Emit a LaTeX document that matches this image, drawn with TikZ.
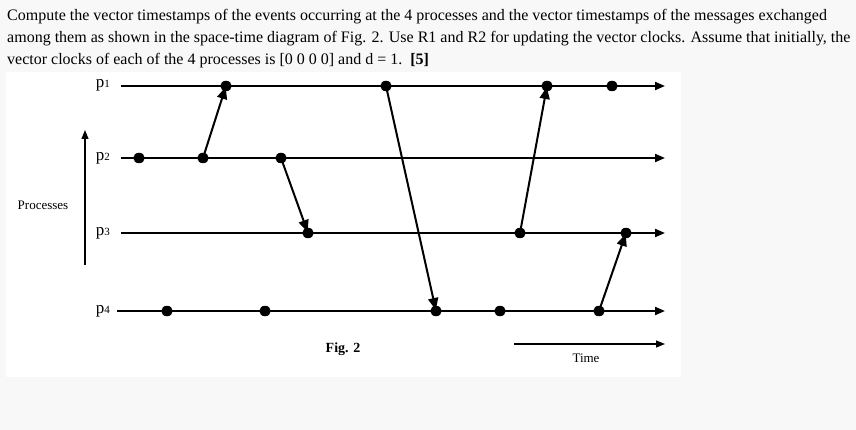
\documentclass[tikz,border=0pt]{standalone}
\usepackage{fontspec}
\setmainfont{Liberation Serif}
\usetikzlibrary{arrows.meta,positioning,shapes.geometric}
\definecolor{pagebg}{HTML}{F8F8F8}

\begin{document}
\begin{tikzpicture}[x=1pt, y=-1pt,
    ev/.style={ellipse, fill, inner sep=0pt, minimum width=11.5pt, minimum height=10.5pt},
    proc/.style={line width=2pt, -{Triangle[length=10pt, width=8pt]}},
    msg/.style={line width=2pt, shorten >=1pt, -{Triangle[length=12pt, width=10pt]}},
    thin arrow/.style={line width=1.2pt, -{Triangle[length=9pt, width=7pt]}},
    txt/.style={inner sep=0pt, anchor=base west, font=\fontsize{16}{18}\selectfont},
    plabel/.style={inner sep=0pt, anchor=east, font=\fontsize{17}{17}\selectfont}
]

\fill[pagebg] (0,0) rectangle (856,430);
\fill[white] (6,72) rectangle (681,377);
\useasboundingbox (0,0) rectangle (856,430);

% question text
\node[txt] (line1) at (7,21) {Compute the vector timestamps of the events occurring at the 4 processes and the vector timestamps of the messages exchanged};
\node[txt] (line2) at (7,43) {among them as shown in the space-time diagram of Fig. 2. Use R1 and R2 for updating the vector clocks. Assume that initially, the};
\node[txt] (line3) at (7,65) {vector clocks of each of the 4 processes is [0 0 0 0] and d = 1.\ \ \textbf{[5]}};

% process lines
\coordinate (P1s) at (121,86);  \coordinate (P1e) at (665,86);
\coordinate (P2s) at (121,158); \coordinate (P2e) at (665,158);
\coordinate (P3s) at (121,233); \coordinate (P3e) at (665,233);
\coordinate (P4s) at (117,311); \coordinate (P4e) at (665,311);

\draw[proc] (P1s) -- (P1e);
\draw[proc] (P2s) -- (P2e);
\draw[proc] (P3s) -- (P3e);
\draw[proc] (P4s) -- (P4e);

\node[plabel] (lp1) at (110,85) {p{\fontsize{11}{11}\selectfont 1}};
\node[plabel] (lp2) at (110,158) {p{\fontsize{11}{11}\selectfont 2}};
\node[plabel] (lp3) at (110,233) {p{\fontsize{11}{11}\selectfont 3}};
\node[plabel] (lp4) at (110,311) {p{\fontsize{11}{11}\selectfont 4}};

% events
\node[ev] (a1) at (226,86) {};
\node[ev] (a2) at (386,86) {};
\node[ev] (a3) at (547,86) {};
\node[ev] (a4) at (612,86) {};

\node[ev] (b1) at (139,158) {};
\node[ev] (b2) at (203,158) {};
\node[ev] (b3) at (281,158) {};

\node[ev] (c1) at (308,233) {};
\node[ev] (c2) at (520,233) {};
\node[ev] (c3) at (626,233) {};

\node[ev] (d1) at (167,311) {};
\node[ev] (d2) at (265,311) {};
\node[ev] (d3) at (436,311) {};
\node[ev] (d4) at (500,311) {};
\node[ev] (d5) at (599,311) {};

% messages
\draw[msg] (b2.center) -- (a1.center);
\draw[msg] (b3.center) -- (c1.center);
\draw[msg] (a2.center) -- (d3.center);
\draw[msg] (c2.center) -- (a3.center);
\draw[msg] (d5.center) -- (c3.center);

% axes
\coordinate (ax0) at (85,265);
\coordinate (ax1) at (85,130);
\draw[thin arrow] (ax0) -- (ax1);
\node[font=\fontsize{13}{13}\selectfont] (procs) at (43,205) {Processes};

\coordinate (t0) at (514,344);
\coordinate (t1) at (665,344);
\draw[thin arrow] (t0) -- (t1);
\node[font=\fontsize{13}{13}\selectfont, below=6pt of t0, xshift=72pt] (time) {Time};

\node[font=\fontsize{14}{14}\selectfont\bfseries] (fig) at (343,349) {Fig. 2};

\end{tikzpicture}
\end{document}
